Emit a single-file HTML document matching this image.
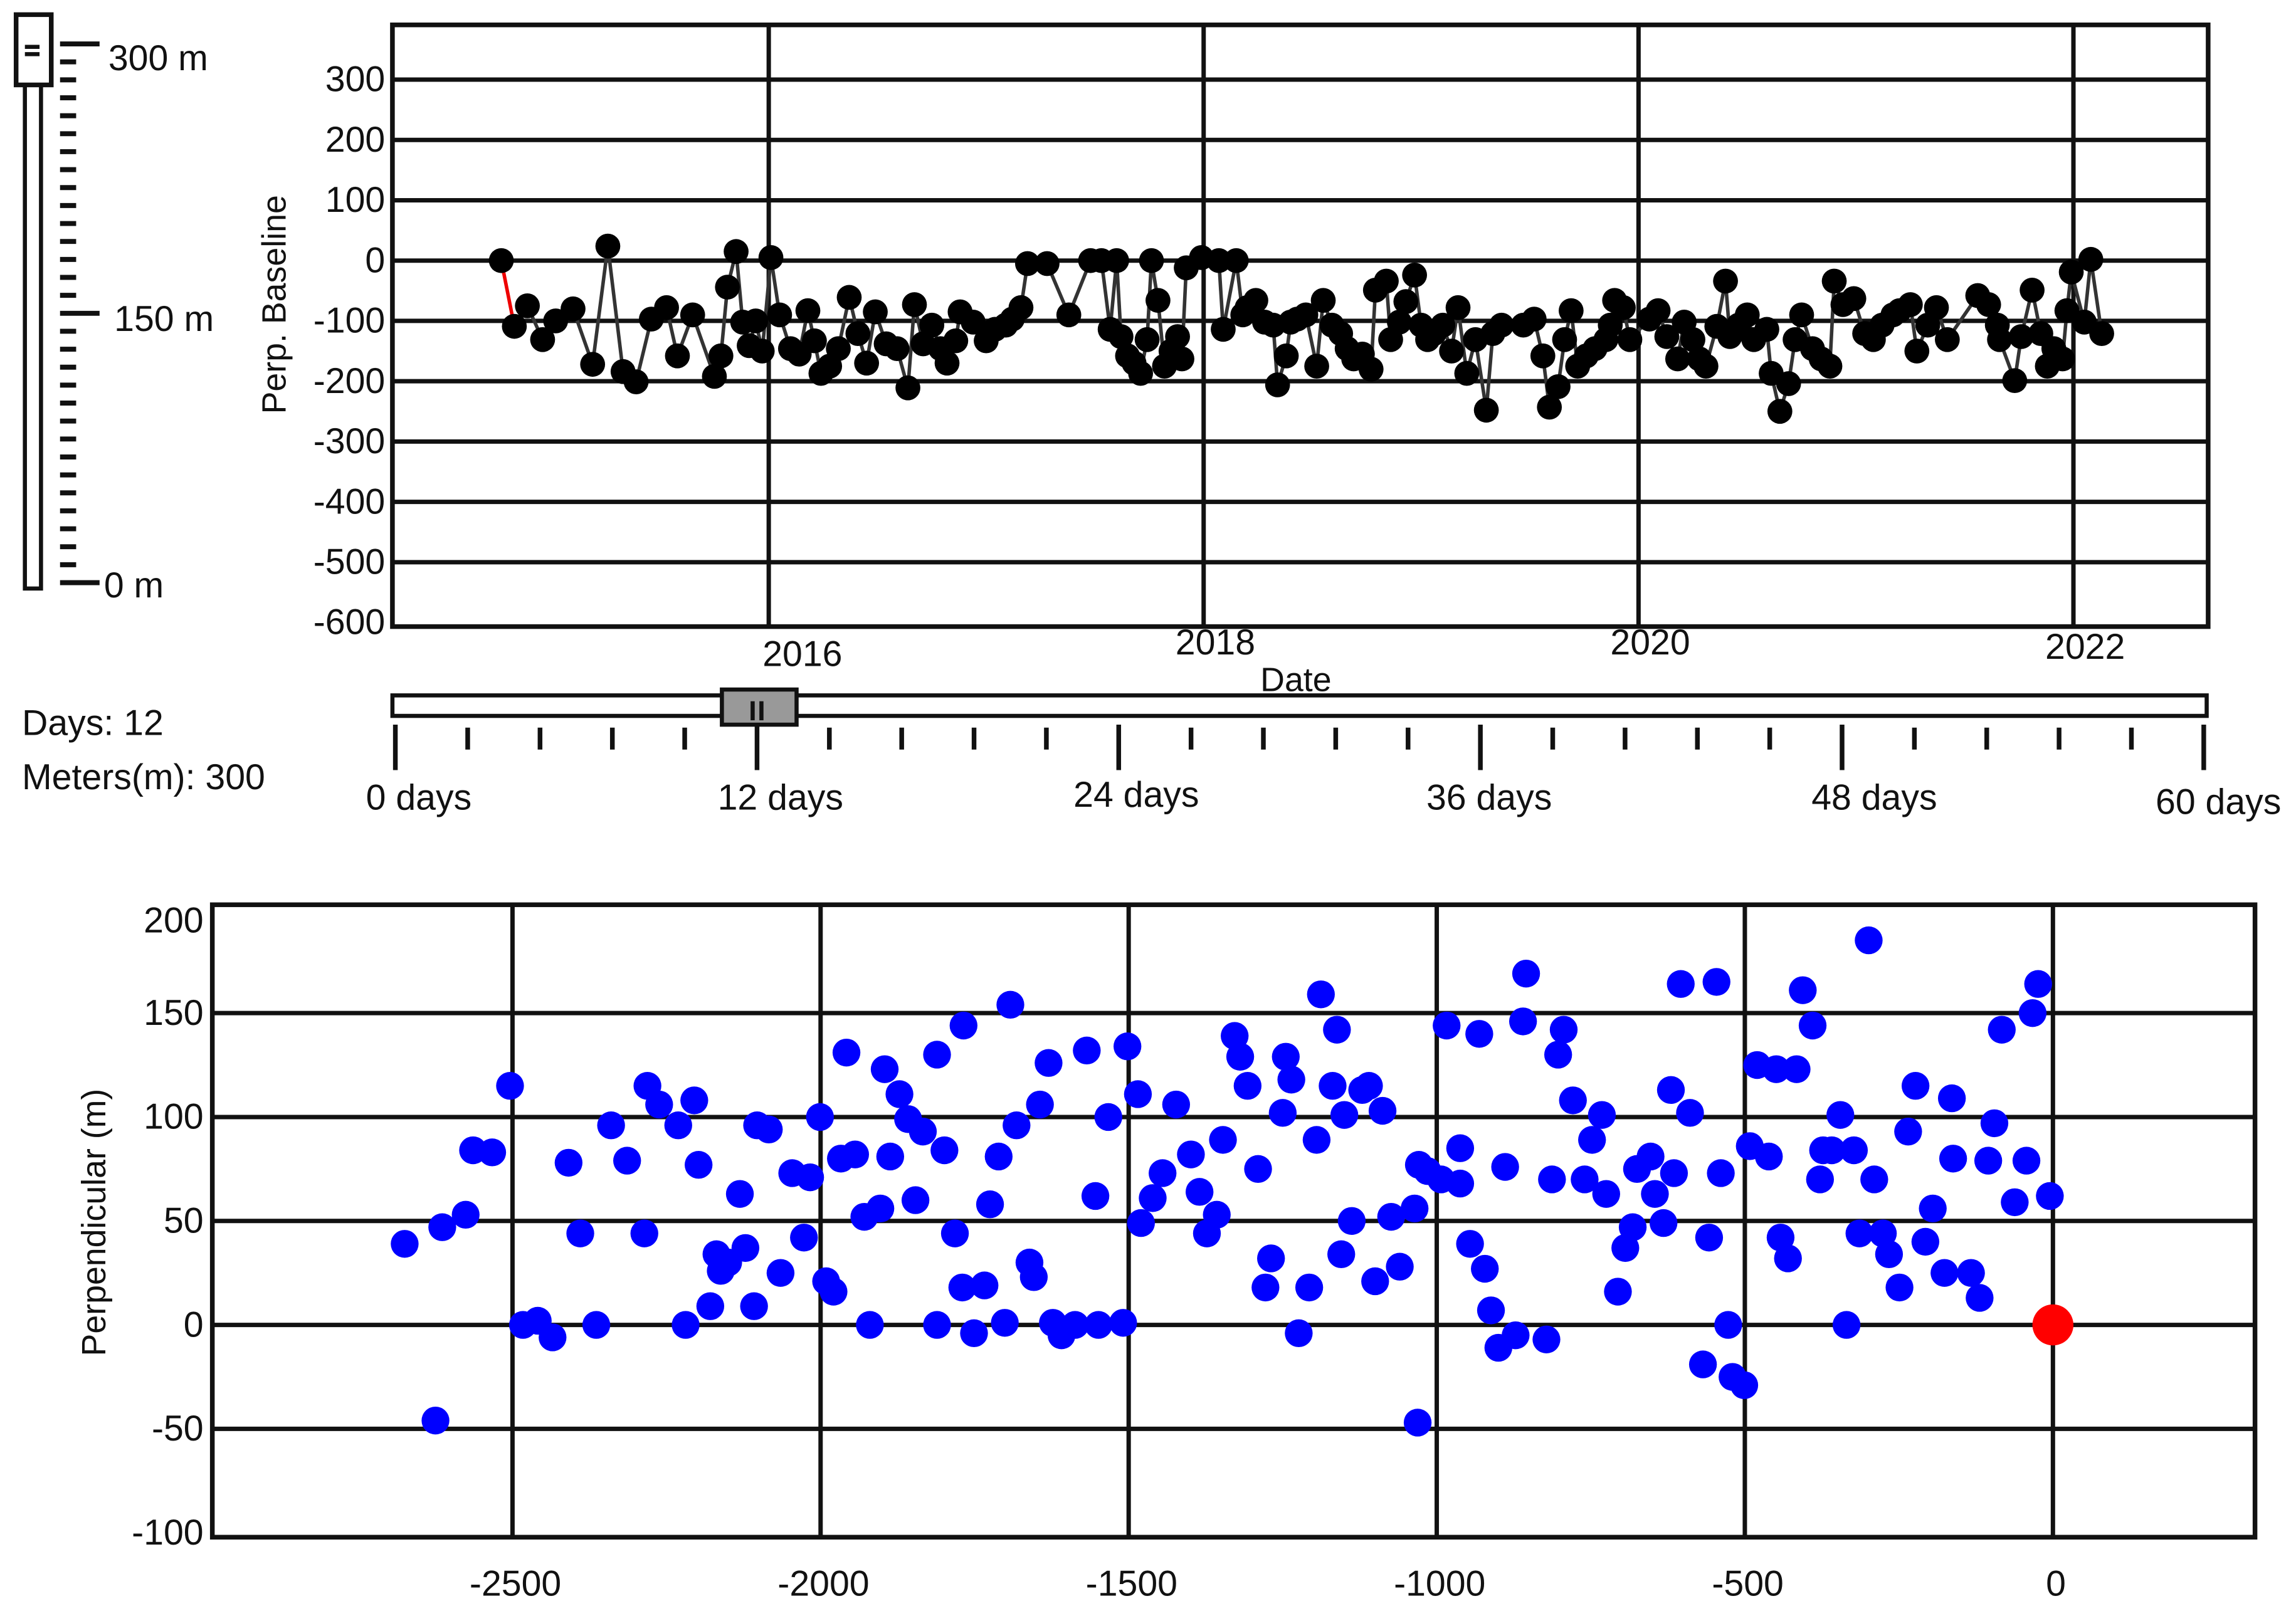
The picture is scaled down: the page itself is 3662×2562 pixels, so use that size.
<!DOCTYPE html>
<html><head><meta charset="utf-8"><style>
html,body{margin:0;padding:0;background:#fff;}
svg{display:block;font-family:"Liberation Sans",Arial,sans-serif;}
text{fill:#111;}
</style></head><body>
<svg id="root" width="3662" height="2562" viewBox="0 0 1568 1097" xmlns="http://www.w3.org/2000/svg">
<g id="slider"></g>
<g id="top"></g>
<g id="days"></g>
<g id="bot"></g>
</svg>
<script>
const topDates=[2014.77,2014.83,2014.89,2014.96,2015.02,2015.10,2015.19,2015.26,2015.33,2015.39,2015.46,2015.53,2015.58,2015.65,2015.75,2015.78,2015.81,2015.85,2015.88,2015.91,2015.94,2015.97,2016.01,2016.05,2016.10,2016.14,2016.18,2016.21,2016.24,2016.28,2016.32,2016.37,2016.41,2016.45,2016.49,2016.54,2016.59,2016.64,2016.67,2016.71,2016.75,2016.79,2016.82,2016.86,2016.88,2016.94,2017.00,2017.04,2017.09,2017.12,2017.16,2017.19,2017.28,2017.38,2017.48,2017.53,2017.57,2017.60,2017.62,2017.65,2017.68,2017.71,2017.74,2017.76,2017.79,2017.82,2017.85,2017.88,2017.90,2017.92,2017.99,2018.07,2018.09,2018.15,2018.18,2018.20,2018.24,2018.28,2018.32,2018.34,2018.38,2018.40,2018.43,2018.47,2018.52,2018.55,2018.59,2018.63,2018.66,2018.69,2018.73,2018.77,2018.79,2018.84,2018.86,2018.90,2018.93,2018.97,2019.00,2019.03,2019.06,2019.10,2019.14,2019.17,2019.21,2019.25,2019.30,2019.33,2019.37,2019.47,2019.52,2019.56,2019.59,2019.63,2019.66,2019.69,2019.72,2019.76,2019.80,2019.85,2019.87,2019.89,2019.93,2019.96,2020.05,2020.09,2020.13,2020.18,2020.21,2020.25,2020.28,2020.31,2020.36,2020.40,2020.42,2020.46,2020.50,2020.53,2020.59,2020.61,2020.65,2020.69,2020.72,2020.75,2020.80,2020.84,2020.88,2020.90,2020.94,2020.99,2021.04,2021.08,2021.12,2021.17,2021.20,2021.25,2021.28,2021.33,2021.37,2021.42,2021.56,2021.61,2021.65,2021.66,2021.73,2021.76,2021.81,2021.85,2021.88,2021.91,2021.95,2021.97,2021.99,2022.05,2022.08,2022.13];
const topVals=[0,-109,-75,-131,-100,-80,-172,24,-184,-201,-97,-78,-158,-90,-192,-158,-44,15,-102,-141,-100,-150,5,-90,-146,-155,-83,-133,-187,-175,-146,-61,-121,-170,-85,-138,-146,-211,-73,-138,-107,-146,-170,-133,-85,-102,-133,-114,-107,-97,-78,-5,-5,-90,0,0,-114,0,-126,-158,-170,-187,-131,0,-66,-175,-150,-126,-163,-12,5,0,-114,0,-90,-78,-66,-102,-107,-206,-158,-102,-97,-90,-175,-66,-107,-121,-146,-163,-155,-180,-49,-34,-131,-102,-68,-24,-107,-131,-121,-107,-150,-78,-187,-131,-248,-121,-107,-107,-97,-158,-243,-209,-131,-83,-175,-158,-146,-131,-107,-66,-78,-131,-97,-83,-126,-163,-102,-131,-163,-175,-109,-34,-126,-107,-90,-131,-114,-187,-250,-204,-131,-90,-146,-163,-175,-34,-73,-63,-121,-131,-107,-90,-83,-73,-150,-107,-78,-131,-58,-73,-107,-131,-199,-126,-49,-121,-175,-146,-163,-83,-19,-102,2,-121];
const topYTicks=[300,200,100,0,-100,-200,-300,-400,-500,-600];
const topYears=[2016,2018,2020,2022];
const botX=[-2675,-2625,-2614,-2576,-2564,-2533,-2504,-2483,-2459,-2435,-2409,-2390,-2364,-2340,-2314,-2286,-2281,-2262,-2231,-2219,-2205,-2198,-2179,-2169,-2162,-2150,-2131,-2122,-2108,-2103,-2084,-2065,-2046,-2027,-2017,-2001,-1991,-1979,-1958,-1967,-1944,-1929,-1920,-1903,-1896,-1887,-1872,-1858,-1846,-1834,-1811,-1811,-1799,-1782,-1768,-1770,-1751,-1734,-1725,-1711,-1701,-1692,-1682,-1661,-1654,-1644,-1630,-1623,-1609,-1587,-1568,-1554,-1549,-1533,-1509,-1502,-1485,-1480,-1461,-1445,-1423,-1399,-1385,-1373,-1357,-1347,-1328,-1319,-1307,-1290,-1278,-1269,-1245,-1236,-1250,-1224,-1207,-1195,-1188,-1169,-1162,-1150,-1155,-1138,-1121,-1110,-1100,-1088,-1074,-1060,-1036,-1029,-1031,-1015,-993,-984,-962,-962,-946,-931,-922,-912,-900,-889,-872,-860,-855,-822,-813,-803,-794,-779,-760,-748,-732,-725,-706,-694,-682,-675,-653,-646,-632,-615,-620,-604,-589,-568,-558,-546,-539,-527,-520,-501,-492,-480,-461,-449,-442,-430,-416,-406,-390,-378,-373,-359,-345,-335,-323,-314,-299,-290,-276,-266,-249,-235,-223,-207,-195,-176,-164,-162,-133,-119,-105,-95,-83,-62,-43,-33,-24,-5];
const botY=[39,-46,47,53,84,83,115,0,2,-6,78,44,0,96,79,44,115,106,96,0,108,77,9,34,26,30,63,37,9,96,94,25,73,42,71,100,21,16,131,80,82,52,0,56,123,81,111,99,60,93,0,130,84,44,144,18,-4,19,58,81,1,154,96,30,23,106,126,1,-5,0,132,62,0,100,1,134,111,49,61,73,106,82,64,44,53,89,139,129,115,75,18,32,129,118,102,-4,18,89,159,115,142,101,34,50,113,115,21,103,52,28,56,77,-47,74,70,144,85,68,39,140,27,7,-11,76,-5,146,169,-7,70,130,142,108,70,89,101,63,16,37,47,75,81,63,49,73,113,164,102,-19,42,165,73,0,-25,-29,86,125,81,123,42,32,123,161,144,70,84,84,101,0,84,44,185,70,44,34,18,93,115,40,56,25,109,80,25,13,79,97,142,59,79,150,164,62];
const refPoint=[0,0];
const botXTicks=[-2500,-2000,-1500,-1000,-500,0];
const botYTicks=[200,150,100,50,0,-50,-100];
const botGridY=[150,100,50,0,-50];
const dayTicks=[0,12,24,36,48,60];
const NS='http://www.w3.org/2000/svg';
const FS=24.5;
function mk(parent,tag,attrs,txt){const e=document.createElementNS(NS,tag);for(const k in attrs)e.setAttribute(k,attrs[k]);if(txt!==undefined)e.textContent=txt;parent.appendChild(e);return e;}
// ---------- top chart ----------
const T=document.getElementById('top');
const tx=d=>525+(d-2016)*148.5, ty=v=>178-v*0.412;
const TL=268,TR=1508,TT=17,TB=428;
let e;
for(const v of topYTicks.slice(0,-1)){e=mk(T,'line',{x1:TL,x2:TR,y1:ty(v),y2:ty(v),stroke:'#111','stroke-width':3});
}
for(const yr of topYears){e=mk(T,'line',{x1:tx(yr),x2:tx(yr),y1:TT,y2:TB,stroke:'#111','stroke-width':3});
}
e=mk(T,'rect',{x:TL,y:TT,width:TR-TL,height:TB-TT,fill:'none',stroke:'#111','stroke-width':3.2});

for(const v of topYTicks){e=mk(T,'text',{x:263,y:ty(v)+8,'text-anchor':'end','font-size':FS},String(v));
}
const yrOff=[455,447,447,450];
topYears.forEach((yr,i)=>{e=mk(T,'text',{x:tx(yr)+(i==0?23:8),y:yrOff[i],'text-anchor':'middle','font-size':FS},String(yr));
});
e=mk(T,'text',{x:885,y:472,'text-anchor':'middle','font-size':23},'Date');

e=mk(T,'text',{x:0,y:0,'text-anchor':'middle','font-size':23,transform:'translate(195,208) rotate(-90)'},'Perp. Baseline');

for(let i=1;i<topDates.length;i++){e=mk(T,'line',{x1:tx(topDates[i-1]),y1:ty(topVals[i-1]),x2:tx(topDates[i]),y2:ty(topVals[i]),stroke:i==1?'#e00':'#333','stroke-width':2.4});
}
for(let i=0;i<topDates.length;i++){e=mk(T,'circle',{cx:tx(topDates[i]),cy:ty(topVals[i]),r:8.5,fill:'#000'});
}
// ---------- left slider ----------
const S=document.getElementById('slider');
e=mk(S,'rect',{x:17,y:12,width:11,height:390,fill:'#fff',stroke:'#111','stroke-width':2.8});

e=mk(S,'rect',{x:11,y:10,width:24,height:48,fill:'#fff',stroke:'#111','stroke-width':3.2});

mk(S,'line',{x1:17,x2:27,y1:32,y2:32,stroke:'#111','stroke-width':2.8});
mk(S,'line',{x1:17,x2:27,y1:37,y2:37,stroke:'#111','stroke-width':2.8});
for(let k=0;k<=30;k++){const y=398-k*(368/30);const major=(k==0||k==15||k==30);
e=mk(S,'line',{x1:41,x2:major?68:52,y1:y,y2:y,stroke:'#111','stroke-width':3.4});
}
[['300 m',74,48],['150 m',78,226],['0 m',71,408]].forEach(a=>{e=mk(S,'text',{x:a[1],y:a[2],'font-size':FS},a[0]);
});
e=mk(S,'text',{x:15,y:502,'font-size':FS},'Days: 12');
e=mk(S,'text',{x:15,y:539,'font-size':FS},'Meters(m): 300');
// ---------- days slider ----------
const D=document.getElementById('days');
const dx=d=>270+d*(1505-270)/60;
e=mk(D,'rect',{x:268,y:475,width:1239,height:14,fill:'#fff',stroke:'#111','stroke-width':2.8});

for(let k=0;k<=25;k++){const d=k*2.4;const major=k%5==0;
e=mk(D,'line',{x1:dx(d),x2:dx(d),y1:major?495:497,y2:major?526:512,stroke:'#111','stroke-width':3.2});
}
e=mk(D,'rect',{x:493,y:471,width:51,height:24,fill:'#999',stroke:'#111','stroke-width':2.8});

mk(D,'line',{x1:514,x2:514,y1:479,y2:492,stroke:'#111','stroke-width':2.8});
mk(D,'line',{x1:520,x2:520,y1:479,y2:492,stroke:'#111','stroke-width':2.8});
const dayLblY=[553,553,551,553,553,556];const dayLblOff=[16,16,12,6,22,10];
dayTicks.forEach((d,i)=>{e=mk(D,'text',{x:dx(d)+dayLblOff[i],y:dayLblY[i],'text-anchor':'middle','font-size':FS},d+' days');
});
// ---------- bottom chart ----------
const B=document.getElementById('bot');
const bx=v=>1402+v*0.4208, by=v=>905-v*1.42;
const BL=145,BR=1540,BT=618,BB=1050;
for(const v of botGridY){e=mk(B,'line',{x1:BL,x2:BR,y1:by(v),y2:by(v),stroke:'#111','stroke-width':3});
}
for(const v of botXTicks){e=mk(B,'line',{x1:bx(v),x2:bx(v),y1:BT,y2:BB,stroke:'#111','stroke-width':3});
}
e=mk(B,'rect',{x:BL,y:BT,width:BR-BL,height:BB-BT,fill:'none',stroke:'#111','stroke-width':3.2});

for(const v of botYTicks){e=mk(B,'text',{x:139,y:by(v)+8+(v==200?8:0),'text-anchor':'end','font-size':FS},String(v));
}
for(const v of botXTicks){e=mk(B,'text',{x:bx(v)+2,y:1090,'text-anchor':'middle','font-size':FS},String(v));
}
e=mk(B,'text',{x:0,y:0,'text-anchor':'middle','font-size':23,transform:'translate(72,835) rotate(-90)'},'Perpendicular (m)');

for(let i=0;i<botX.length;i++){e=mk(B,'circle',{cx:bx(botX[i]),cy:by(botY[i]),r:9.5,fill:'#0000ff'});
}
e=mk(B,'circle',{cx:bx(refPoint[0]),cy:by(refPoint[1]),r:14,fill:'#ff0000'});

</script>
</body></html>
